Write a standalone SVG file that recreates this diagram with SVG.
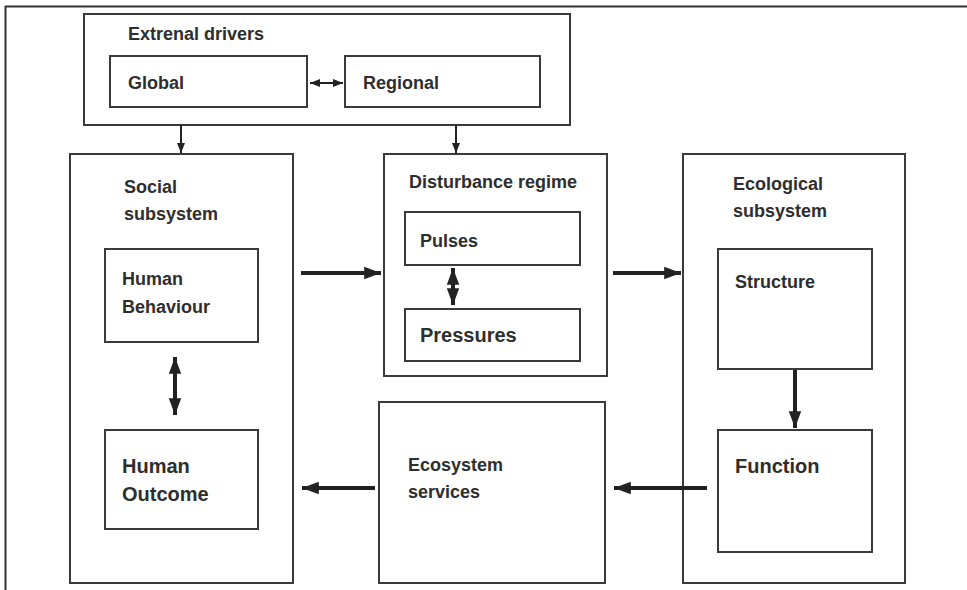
<svg xmlns="http://www.w3.org/2000/svg" width="967" height="590" viewBox="0 0 967 590">
<style>
.box{fill:none;stroke:#3a3a3a;stroke-width:2}
.t{font-family:"Liberation Sans",Arial,sans-serif;font-weight:bold;fill:#2e2e2e;font-size:18px}
.t2{font-family:"Liberation Sans",Arial,sans-serif;font-weight:bold;fill:#2e2e2e;font-size:18px}
.t3{font-family:"Liberation Sans",Arial,sans-serif;font-weight:bold;fill:#2e2e2e;font-size:20px}
.thin{stroke:#222;stroke-width:2;fill:none}
.thick{stroke:#222;stroke-width:4;fill:none}
</style>
<defs>
<marker id="ah" viewBox="0 0 10 10" refX="10" refY="5" markerWidth="4.2" markerHeight="4.2" orient="auto-start-reverse" markerUnits="strokeWidth">
<path d="M0,1.3 L10,5 L0,8.7 z" fill="#222"/>
</marker>
<marker id="ahs" viewBox="0 0 10 10" refX="10" refY="5" markerWidth="5" markerHeight="5" orient="auto-start-reverse" markerUnits="strokeWidth">
<path d="M0,1 L10,5 L0,9 z" fill="#222"/>
</marker>
</defs>
<rect width="967" height="590" fill="#fff"/>
<g id="frame">
<line x1="5" y1="6.5" x2="967" y2="6.5" stroke="#333" stroke-width="2"/>
<line x1="5.5" y1="6" x2="5.5" y2="590" stroke="#333" stroke-width="2"/>
</g>
<g id="external">
<rect class="box" x="84" y="14" width="486" height="111"/>
<text class="t" x="128" y="40">Extrenal drivers</text>
</g>
<g id="global">
<rect class="box" x="110" y="56" width="197" height="51"/>
<text class="t" x="128" y="89">Global</text>
</g>
<g id="regional">
<rect class="box" x="345" y="56" width="195" height="51"/>
<text class="t" x="363" y="89">Regional</text>
</g>
<g id="social">
<rect class="box" x="70" y="154" width="223" height="429"/>
<text class="t" x="124" y="193">Social</text>
<text class="t" x="124" y="220">subsystem</text>
</g>
<g id="behaviour">
<rect class="box" x="105" y="249" width="153" height="93"/>
<text class="t2" x="122" y="285">Human</text>
<text class="t2" x="122" y="313">Behaviour</text>
</g>
<g id="outcome">
<rect class="box" x="105" y="430" width="153" height="99"/>
<text class="t3" x="122" y="473">Human</text>
<text class="t3" x="122" y="501">Outcome</text>
</g>
<g id="disturbance">
<rect class="box" x="384" y="154" width="223" height="222"/>
<text class="t" x="409" y="188">Disturbance regime</text>
</g>
<g id="pulses">
<rect class="box" x="405" y="212" width="175" height="53"/>
<text class="t2" x="420" y="247">Pulses</text>
</g>
<g id="pressures">
<rect class="box" x="405" y="309" width="175" height="52"/>
<text class="t3" x="420" y="342">Pressures</text>
</g>
<g id="services">
<rect class="box" x="379" y="402" width="226" height="181"/>
<text class="t2" x="408" y="471">Ecosystem</text>
<text class="t2" x="408" y="498">services</text>
</g>
<g id="ecological">
<rect class="box" x="683" y="154" width="222" height="429"/>
<text class="t" x="733" y="190">Ecological</text>
<text class="t" x="733" y="217">subsystem</text>
</g>
<g id="structure">
<rect class="box" x="718" y="249" width="154" height="120"/>
<text class="t2" x="735" y="288">Structure</text>
</g>
<g id="function">
<rect class="box" x="718" y="430" width="154" height="122"/>
<text class="t3" x="735" y="473">Function</text>
</g>
<g id="connectors">
<line class="thin" x1="310" y1="83" x2="343" y2="83" marker-start="url(#ahs)" marker-end="url(#ahs)"/>
<line class="thin" x1="181" y1="125" x2="181" y2="153" marker-end="url(#ahs)"/>
<line class="thin" x1="456" y1="125" x2="456" y2="153" marker-end="url(#ahs)"/>
<line class="thick" x1="301" y1="273" x2="381" y2="273" marker-end="url(#ah)"/>
<line class="thick" x1="613" y1="273" x2="681" y2="273" marker-end="url(#ah)"/>
<line class="thick" x1="707" y1="488" x2="614" y2="488" marker-end="url(#ah)"/>
<line class="thick" x1="375" y1="488" x2="302" y2="488" marker-end="url(#ah)"/>
<line class="thick" x1="175" y1="357" x2="175" y2="415" marker-start="url(#ah)" marker-end="url(#ah)"/>
<line class="thick" x1="453" y1="268" x2="453" y2="305" marker-start="url(#ah)" marker-end="url(#ah)"/>
<line class="thick" x1="795" y1="370" x2="795" y2="428" marker-end="url(#ah)"/>
</g>
</svg>
